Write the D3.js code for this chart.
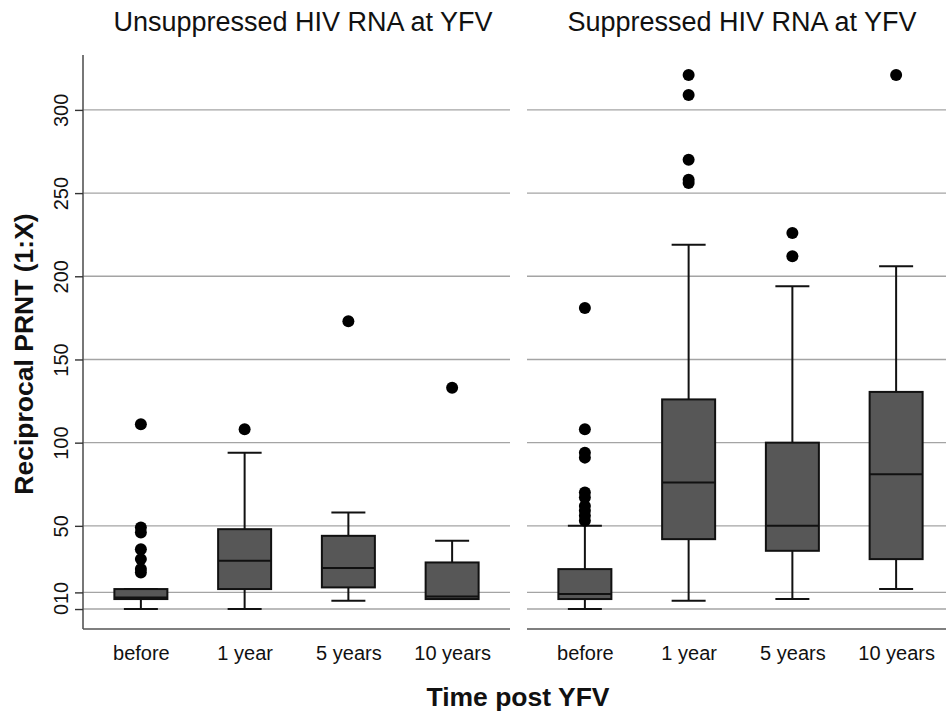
<!DOCTYPE html>
<html>
<head>
<meta charset="utf-8">
<script src="https://cdn.jsdelivr.net/npm/d3@7"></script>
<style>
  body { margin: 0; background: #fff; }
  text { font-family: "Liberation Sans", Arial, sans-serif; }
</style>
</head>
<body>
<div id="chart"></div>
<script>
const categories = ["before", "1 year", "5 years", "10 years"];
const panelTitles = ["Unsuppressed HIV RNA at YFV", "Suppressed HIV RNA at YFV"];
const yTicks = [0, 10, 50, 100, 150, 200, 250, 300];

// box statistics, one entry per category
const unsupLow = [0, 0, 5, 6];
const unsupQ1 = [6, 12, 13, 6];
const unsupMedian = [7, 29, 24.6, 7.5];
const unsupQ3 = [12, 48, 44, 28];
const unsupHigh = [12, 94, 58, 41];
const unsupOutliers = [[111, 49, 46, 36, 30, 24, 22], [108], [173], [133]];

const supLow = [0, 5, 6, 12];
const supQ1 = [6, 42, 35, 30];
const supMedian = [9, 76, 50, 81];
const supQ3 = [24, 126, 100, 130.5];
const supHigh = [50, 219, 194, 206];
const supOutliers = [[181, 108, 94, 91, 70, 67, 62, 59, 56, 53], [321, 309, 270, 258, 256], [226, 212], [321]];

const width = 946, height = 715;
const plotTop = 55, plotBottom = 629;

const boxes = (low, q1, med, q3, high, out) =>
  categories.map((c, i) => ({ cat: c, low: low[i], q1: q1[i], med: med[i], q3: q3[i], high: high[i], out: out[i] }));

const panels = [
  { title: panelTitles[0], x0: 83, x1: 510, inner: [89, 504], titleX: 303, data: boxes(unsupLow, unsupQ1, unsupMedian, unsupQ3, unsupHigh, unsupOutliers) },
  { title: panelTitles[1], x0: 527, x1: 946, inner: [533, 948], titleX: 742, data: boxes(supLow, supQ1, supMedian, supQ3, supHigh, supOutliers) }
];

const y = d3.scaleLinear().domain([-12, 333]).range([plotBottom, plotTop]);

const svg = d3.create("svg")
  .attr("width", width)
  .attr("height", height)
  .attr("viewBox", [0, 0, width, height]);

const boxW = 53, capW = 34, lw = 2;

panels.forEach(p => {
  const x = d3.scalePoint().domain(categories).range(p.inner).padding(0.5);
  const g = svg.append("g");

  // gridlines
  g.selectAll("line.grid")
    .data(yTicks)
    .join("line")
    .attr("x1", p.x0).attr("x2", p.x1)
    .attr("y1", d => y(d)).attr("y2", d => y(d))
    .attr("stroke", "#a4a4a4")
    .attr("stroke-width", 1.4);

  // x axis line + labels
  const xAxis = g.append("g")
    .attr("transform", `translate(0,${plotBottom})`)
    .call(d3.axisBottom(x).tickSize(0).tickPadding(17));
  xAxis.select(".domain").attr("d", `M${p.x0},0H${p.x1}`).attr("stroke", "#555").attr("stroke-width", 1.6);
  xAxis.selectAll("text").attr("font-size", 20).attr("fill", "#111")
    .attr("font-family", "Liberation Sans, Arial, sans-serif");

  // title
  g.append("text")
    .attr("x", p.titleX)
    .attr("y", 31)
    .attr("text-anchor", "middle")
    .attr("font-size", 27)
    .attr("fill", "#111")
    .text(p.title);

  const b = g.selectAll("g.box")
    .data(p.data)
    .join("g")
    .attr("transform", d => `translate(${x(d.cat)},0)`);

  // whiskers
  b.append("line")
    .attr("y1", d => y(d.low)).attr("y2", d => y(d.q1))
    .attr("stroke", "#111").attr("stroke-width", lw);
  b.append("line")
    .attr("y1", d => y(d.q3)).attr("y2", d => y(d.high))
    .attr("stroke", "#111").attr("stroke-width", lw);
  b.append("line")
    .attr("x1", -capW / 2).attr("x2", capW / 2)
    .attr("y1", d => y(d.low)).attr("y2", d => y(d.low))
    .attr("stroke", "#111").attr("stroke-width", lw);
  b.append("line")
    .attr("x1", -capW / 2).attr("x2", capW / 2)
    .attr("y1", d => y(d.high)).attr("y2", d => y(d.high))
    .attr("stroke", "#111").attr("stroke-width", lw);

  // box
  b.append("rect")
    .attr("x", -boxW / 2)
    .attr("width", boxW)
    .attr("y", d => y(d.q3))
    .attr("height", d => y(d.q1) - y(d.q3))
    .attr("fill", "#575757")
    .attr("stroke", "#111")
    .attr("stroke-width", lw);
  b.append("line")
    .attr("x1", -boxW / 2).attr("x2", boxW / 2)
    .attr("y1", d => y(d.med)).attr("y2", d => y(d.med))
    .attr("stroke", "#111").attr("stroke-width", lw);

  // outliers
  b.selectAll("circle")
    .data(d => d.out)
    .join("circle")
    .attr("r", 6)
    .attr("cy", d => y(d))
    .attr("fill", "#000");
});

// y axis on left panel
const yAxis = svg.append("g")
  .attr("transform", "translate(83,0)")
  .call(d3.axisLeft(y).tickValues(yTicks).tickSize(8).tickPadding(6));
yAxis.select(".domain").attr("d", `M0,${plotTop}V${plotBottom}`).attr("stroke", "#555").attr("stroke-width", 1.6);
yAxis.selectAll(".tick line").attr("stroke", "#333").attr("stroke-width", 1.4);
yAxis.selectAll("text")
  .attr("font-size", 20)
  .attr("fill", "#111")
  .attr("font-family", "Liberation Sans, Arial, sans-serif")
  .attr("text-anchor", "middle")
  .attr("x", null).attr("dy", null)
  .attr("transform", "translate(-15,0) rotate(-90)");

// axis titles
svg.append("text")
  .attr("transform", "translate(33,354) rotate(-90)")
  .attr("text-anchor", "middle")
  .attr("font-size", 26.5)
  .attr("font-weight", "bold")
  .attr("fill", "#111")
  .text("Reciprocal PRNT (1:X)");

svg.append("text")
  .attr("x", 518)
  .attr("y", 706)
  .attr("text-anchor", "middle")
  .attr("font-size", 26.5)
  .attr("font-weight", "bold")
  .attr("fill", "#111")
  .text("Time post YFV");

document.getElementById("chart").append(svg.node());
</script>
</body>
</html>
